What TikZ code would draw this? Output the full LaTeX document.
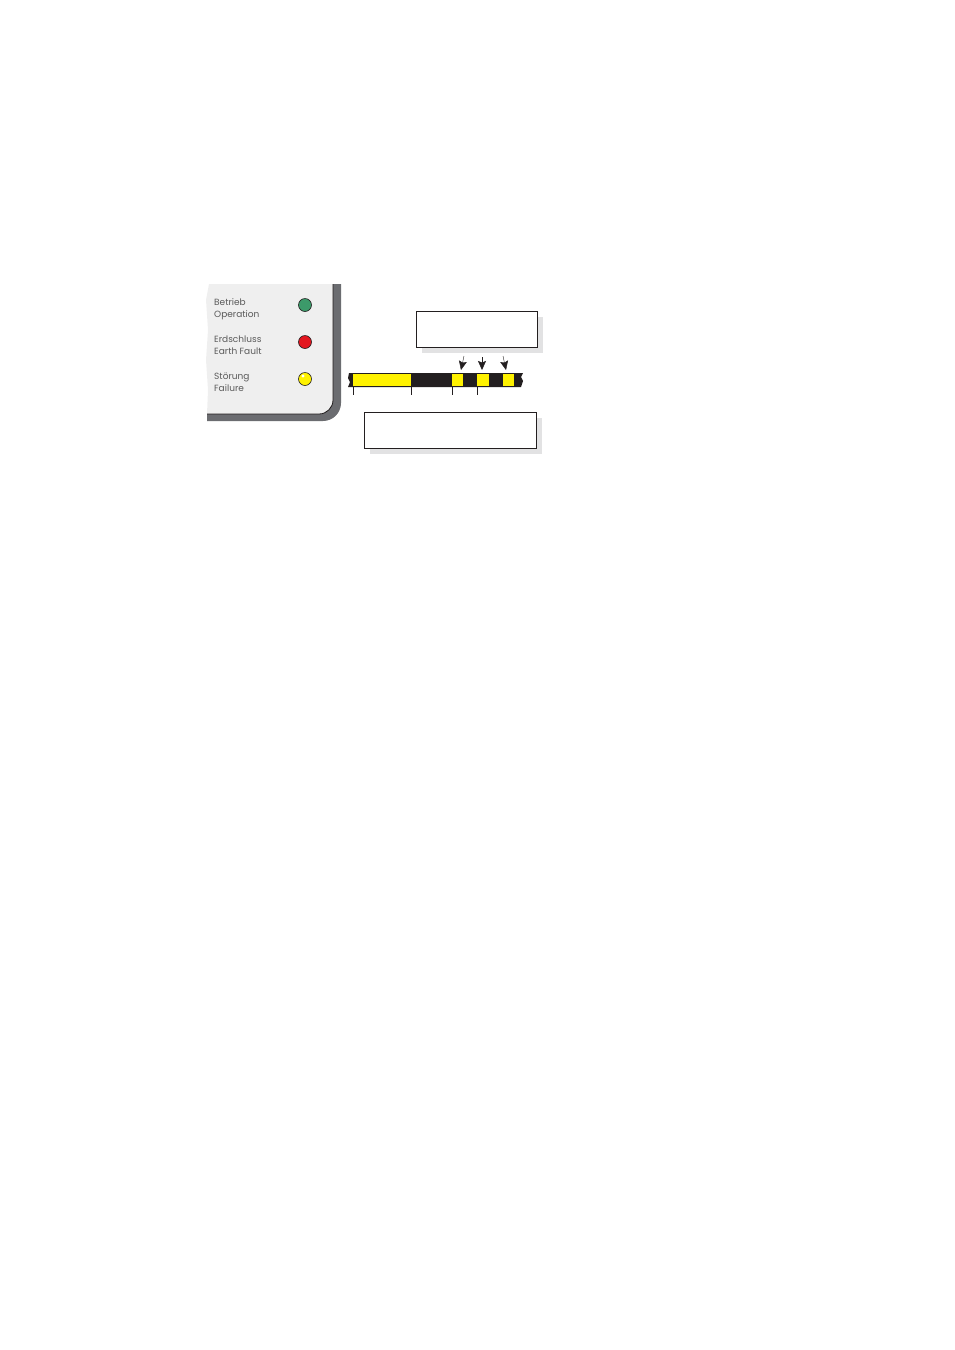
\documentclass[tikz,border=0pt]{standalone}
\usepackage{fontspec}
\setmainfont{Poppins}
\usetikzlibrary{positioning}
\usetikzlibrary{arrows.meta}
\usetikzlibrary{shadows}
\definecolor{panelgray}{HTML}{EFEFEF}
\definecolor{edgegray}{HTML}{6B6C70}
\definecolor{labelgray}{HTML}{5A5A5A}
\definecolor{boxshadow}{HTML}{E2E2E3}
\definecolor{ledgreen}{HTML}{3C9A6A}
\definecolor{ledred}{HTML}{E3161F}
\definecolor{ledyellow}{HTML}{FFF200}
\definecolor{barblack}{HTML}{231F20}

\begin{document}
\begin{tikzpicture}[x=1pt,y=-1pt,>={Stealth[length=9pt,width=8pt,inset=1.5pt]},
        lbl/.style={font=\fontsize{9}{12}\selectfont,text=labelgray,align=left,anchor=north west,inner sep=0pt},
        led/.style={circle,draw=barblack,line width=0.6pt,minimum size=13pt,inner sep=0pt},
        seg/.style={fill=ledyellow,anchor=north west,inner sep=0pt,minimum height=12pt},
        infobox/.style={draw=barblack,line width=0.8pt,fill=white,anchor=north west,inner sep=0pt,
                drop shadow={shadow xshift=6pt,shadow yshift=-6pt,fill=boxshadow,opacity=1}}]
    \useasboundingbox (0,0) rectangle (954,1350);
    % panel with dark edge
    \fill[panelgray] (209,284) -- (333,284) -- (333,400) arc[start angle=0,end angle=90,radius=14]
        -- (207,414) -- (208,390) -- (206,360) -- (208,330) -- (206,300) -- cycle;
    \fill[edgegray] (333,284) -- (341,284) -- (341,403) arc[start angle=0,end angle=90,radius=18]
        -- (207,421) -- (207,414) -- (319,414) arc[start angle=90,end angle=0,radius=14] -- cycle;
    \draw[barblack,line width=0.8pt] (333,284) -- (333,400) arc[start angle=0,end angle=90,radius=14] -- (207,414);
    % labels and leds
    \node[lbl] (op) at (214,298.5) {Betrieb\\Operation};
    \node[lbl] (ef) at (214,335.5) {Erdschluss\\Earth Fault};
    \node[lbl] (fl) at (214,372.5) {Störung\\Failure};
    \node[led,fill=ledgreen] (ledop) at (305,305) {};
    \node[led,fill=ledred] (ledef) at (305,342) {};
    \node[led,fill=ledyellow] (ledfl) at (305,379) {};
    \fill[white] (303,376) circle (1.6pt);
    % bar
    \fill[barblack] (349,373) -- (523,373) -- (521,377) -- (523,381) -- (521,387) -- (348,387)
        -- (350,382) -- (348,378) -- cycle;
    \node[seg,minimum width=58pt] (s1) at (353,374) {};
    \node[seg,minimum width=11pt] (s2) at (452,374) {};
    \node[seg,minimum width=12pt] (s3) at (477,374) {};
    \node[seg,minimum width=11pt] (s4) at (503,374) {};
    \draw[barblack,line width=0.6pt] (s4.south east) -- ++(0,-6);
    \foreach \s/\a in {s1/south west,s1/south east,s2/south west,s3/south west}
        \draw[barblack,line width=0.6pt] (\s.\a) ++(0,1) -- ++(0,8);
    % arrows
    \coordinate (p2) at (464,356); \coordinate (t2) at (461,370);
    \coordinate (p3) at (482,357); \coordinate (t3) at (482,370);
    \coordinate (p4) at (503,356); \coordinate (t4) at (506,370);
    \foreach \i in {2,3,4}
        \draw[->,barblack,line width=0.4pt] (p\i) -- (t\i);
    % boxes
    \node[infobox,minimum width=121pt,minimum height=36pt] (box1) at (416,311) {};
    \node[infobox,minimum width=172pt,minimum height=36pt] (box2) at (364,412) {};
\end{tikzpicture}
\end{document}
